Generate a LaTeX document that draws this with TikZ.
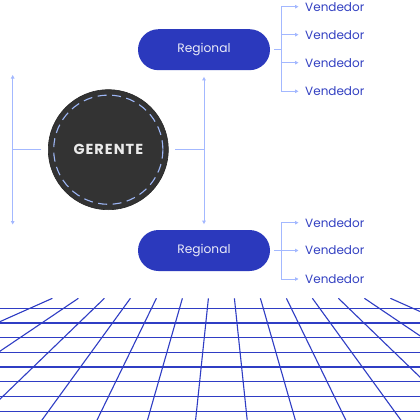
\documentclass[tikz,border=0pt]{standalone}
\usepackage{fontspec}
\setmainfont{Poppins}
\usetikzlibrary{positioning, arrows.meta}

\definecolor{gridblue}{HTML}{2F3DC4}
\definecolor{pillblue}{HTML}{2B39BD}
\definecolor{linkblue}{HTML}{A3B8FF}
\definecolor{textblue}{HTML}{3341C2}
\definecolor{bossgray}{HTML}{333333}
\definecolor{ringblue}{HTML}{9DB6F5}

\tikzset{
  boss/.style={circle, fill=bossgray, draw=black!85, line width=0.6pt, minimum size=120pt, inner sep=0pt,
    text=white!92!black, font=\bfseries\fontsize{14.5}{14.5}\selectfont\addfontfeature{LetterSpace=7}},
  regbox/.style={rectangle, rounded corners=20.5pt, fill=pillblue, minimum width=132pt, minimum height=41pt,
    text=white!90!pillblue, font=\fontsize{12.2}{12.2}\selectfont},
  seller/.style={anchor=west, inner sep=0pt, text=textblue, font=\fontsize{12}{12}\selectfont},
  link/.style={draw=linkblue, line width=1pt},
  tip/.style={-{Triangle[length=3.5pt, width=3.5pt]}},
}

\begin{document}
\begin{tikzpicture}[x=1pt, y=-1pt]
  \useasboundingbox (0,0) rectangle (420,420);
  \fill[white] (0,0) rectangle (420,420);
  \newcommand{\forkx}{281.7}

  \node[boss] at (108.3, 149.7) (gerente) {GERENTE};
  \draw[ringblue, line width=1.1pt, dash pattern=on 9pt off 5.5pt] (gerente.center) circle (54.6);

  \node[regbox] at (204, 49.7) (regtop) {Regional};
  \node[regbox] at (204, 250.5) (regbot) {Regional};

  \foreach \i/\y in {1/6.7, 2/34.7, 3/62.7, 4/91.3}
    \node[seller] at (305, \y) (vt\i) {Vendedor};
  \foreach \i/\y in {1/222.7, 2/250.5, 3/279}
    \node[seller] at (305, \y) (vb\i) {Vendedor};

  \coordinate (hubL) at (12.7, 149.7);
  \coordinate (upL) at (12.7, 75);
  \coordinate (downL) at (12.7, 224.5);
  \coordinate (hubR) at (204, 149.7);
  \coordinate (forkA) at (\forkx, 49.7);
  \coordinate (forkB) at (\forkx, 250.5);

  \draw[link, shorten <=6.7pt] (gerente) -- (hubL);
  \draw[link, tip] (hubL) -- (upL);
  \draw[link, tip] (hubL) -- (downL);

  \draw[link, shorten <=6.7pt] (gerente) -- (hubR);
  \draw[link, tip, shorten >=6.5pt] (hubR) -- (regtop);
  \draw[link, tip, shorten >=5.7pt] (hubR) -- (regbot);

  \draw[link, shorten <=4pt] (regtop) -- (forkA);
  \foreach \i in {1,...,4}
    \draw[link, tip, shorten >=6.5pt] (forkA) |- (vt\i.west);

  \draw[link, shorten <=4pt] (regbot) -- (forkB);
  \foreach \i in {1,...,3}
    \draw[link, tip, shorten >=6.5pt] (forkB) |- (vb\i.west);

  \begin{scope}
    \clip (0, 298.3) rectangle (420, 420);
    \foreach \j in {0,...,7}
      \draw[gridblue, line width=1.3pt] (0, {308.3+14.7*\j}) -- (420, {308.3+14.7*\j});
    \foreach \k in {0,...,6} {
      \draw[gridblue, line width=1.1pt] ({221.4+13+26*\k}, 298.3) -- ++({300*sin(6+10*\k)}, {300*cos(6+10*\k)});
      \draw[gridblue, line width=1.1pt] ({221.4-13-26*\k}, 298.3) -- ++({-300*sin(6+10*\k)}, {300*cos(6+10*\k)});
    }
  \end{scope}
\end{tikzpicture}
\end{document}
